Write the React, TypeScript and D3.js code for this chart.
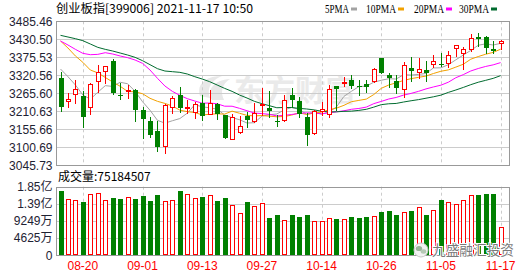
import React from 'react';
import * as d3 from 'd3';

const dates = ['08-17','08-18','08-19','08-20','08-23','08-24','08-25','08-26','08-27','08-30','08-31','09-01','09-02','09-03','09-06','09-07','09-08','09-09','09-10','09-13','09-14','09-15','09-16','09-17','09-22','09-23','09-24','09-27','09-28','09-29','09-30','10-08','10-11','10-12','10-13','10-14','10-15','10-18','10-19','10-20','10-21','10-22','10-25','10-26','10-27','10-28','10-29','11-01','11-02','11-03','11-04','11-05','11-08','11-09','11-10','11-11','11-12','11-15','11-16','11-17'];

const open = [3311.3,3241.0,3262.4,3257.3,3222.7,3303.1,3334.7,3364.2,3260.3,3271.6,3275.6,3214.5,3181.0,3150.4,3105.6,3224.7,3260.3,3220.7,3209.5,3234.9,3202.3,3231.9,3199.3,3126.0,3146.4,3197.2,3181.0,3229.8,3221.7,3182.0,3184.0,3260.3,3242.0,3194.2,3143.3,3212.5,3201.3,3287.9,3296.0,3306.2,3288.9,3292.9,3304.1,3372.3,3321.4,3303.1,3277.7,3341.8,3331.6,3336.7,3354.0,3356.0,3357.1,3404.9,3389.6,3399.8,3438.5,3438.5,3400.8,3418.1];
const high = [3331.6,3267.5,3306.2,3272.6,3298.0,3352.0,3349.9,3369.3,3298.0,3290.9,3277.7,3222.7,3194.2,3181.0,3231.9,3257.3,3285.8,3245.1,3238.0,3260.3,3275.6,3234.9,3200.3,3202.3,3197.2,3209.5,3234.9,3280.7,3272.6,3199.3,3260.3,3280.7,3255.3,3204.4,3214.5,3240.0,3290.9,3288.9,3314.3,3321.4,3306.2,3307.2,3341.8,3374.4,3326.5,3321.4,3362.2,3377.4,3374.4,3364.2,3382.5,3387.6,3394.7,3414.1,3407.9,3446.6,3450.7,3439.5,3425.3,3428.3];
const low = [3212.5,3222.7,3234.9,3163.6,3203.4,3270.5,3296.0,3263.4,3248.1,3252.2,3182.0,3130.1,3133.1,3090.4,3084.3,3206.4,3209.5,3204.4,3191.1,3184.0,3201.3,3187.1,3129.1,3125.0,3143.3,3163.6,3178.9,3199.3,3194.2,3165.7,3181.0,3222.7,3192.2,3107.7,3142.3,3199.3,3194.2,3214.5,3288.9,3280.7,3259.3,3269.5,3301.1,3326.5,3285.8,3265.5,3255.3,3303.1,3311.3,3303.1,3344.9,3348.9,3344.9,3380.5,3339.8,3395.7,3411.0,3389.6,3387.6,3400.8];
const close = [3224.7,3247.1,3278.7,3194.2,3294.0,3329.6,3347.9,3267.5,3257.3,3274.6,3214.5,3188.1,3138.2,3102.6,3229.8,3250.2,3221.7,3223.7,3231.9,3197.2,3234.9,3202.3,3130.1,3192.2,3165.7,3184.0,3206.4,3231.9,3212.5,3177.9,3245.1,3245.1,3201.3,3138.2,3211.5,3216.6,3278.7,3279.7,3299.0,3287.9,3284.8,3285.8,3339.8,3328.6,3311.3,3280.7,3351.0,3334.7,3338.7,3326.5,3364.2,3353.0,3382.5,3413.1,3399.8,3433.4,3432.4,3404.9,3394.7,3425.3];

// volume in 万
const volume = [17340,15100,14830,14290,16530,16720,14830,15450,15180,15640,15180,15990,14640,16260,14560,14830,17340,16450,15370,15800,16260,14640,15530,13570,11410,14290,13300,14020,10060,10870,9440,10870,10330,10870,9170,9170,9980,9710,9710,10330,10060,10330,10600,11680,11950,10950,11680,11950,12940,10950,12140,14910,14290,13830,14910,16260,16260,16530,16530,7518.4507];

const ma5 = [3339.8,3316.3,3290.9,3260.4,3247.7,3268.7,3288.9,3286.6,3299.3,3294.8,3271.8,3239.8,3213.9,3183.0,3174.6,3181.8,3188.5,3205.0,3230.9,3224.3,3221.3,3217.4,3199.3,3191.3,3185.0,3174.9,3175.7,3196.0,3200.1,3202.5,3214.8,3222.5,3216.4,3201.5,3208.2,3201.7,3208.4,3224.1,3256.3,3271.6,3286.0,3287.4,3299.5,3305.4,3310.1,3309.2,3322.3,3321.3,3323.3,3326.3,3343.0,3343.4,3353.0,3367.9,3382.5,3396.4,3412.2,3416.7,3413.0,3418.1];
const ma10 = [3425.3,3403.9,3379.5,3360.1,3336.7,3328.0,3314.0,3300.0,3287.0,3271.3,3270.2,3264.3,3250.3,3241.1,3234.7,3226.8,3214.2,3209.5,3206.9,3199.5,3201.5,3203.0,3202.1,3211.1,3204.7,3198.1,3196.5,3197.7,3195.7,3193.8,3194.8,3199.1,3206.2,3200.8,3205.4,3208.2,3215.5,3220.3,3228.9,3239.9,3243.9,3247.9,3261.8,3280.8,3290.8,3297.6,3304.9,3310.4,3314.3,3318.2,3326.1,3332.9,3337.1,3345.6,3354.4,3369.7,3377.8,3384.9,3390.5,3400.3];
const ma20 = [3425.3,3413.1,3399.8,3387.6,3383.5,3384.5,3389.6,3385.6,3379.5,3374.4,3367.2,3357.1,3336.7,3311.3,3287.8,3271.5,3259.3,3249.2,3242.0,3235.4,3235.9,3233.6,3226.2,3226.1,3219.7,3212.4,3205.3,3203.6,3201.3,3196.6,3198.2,3201.0,3204.2,3206.0,3205.0,3203.2,3206.0,3209.0,3212.3,3216.8,3219.3,3223.5,3234.0,3240.8,3248.1,3252.9,3260.2,3265.3,3271.6,3279.0,3285.0,3290.4,3299.5,3313.2,3322.6,3333.7,3341.3,3347.6,3352.4,3359.3];
const ma30 = [3442.6,3437.5,3432.4,3426.3,3416.1,3405.9,3399.8,3394.7,3388.6,3382.5,3375.4,3365.2,3353.0,3340.8,3333.6,3331.6,3329.6,3324.5,3316.3,3309.2,3301.1,3290.9,3280.7,3271.5,3260.4,3251.2,3241.0,3233.9,3227.8,3221.5,3222.2,3222.1,3219.5,3217.7,3214.9,3211.0,3208.7,3209.1,3210.5,3211.1,3213.4,3216.7,3223.4,3230.9,3233.6,3234.6,3239.0,3242.8,3246.3,3250.6,3254.9,3260.0,3268.4,3275.7,3283.5,3291.9,3299.4,3305.2,3311.2,3319.5];

const priceTicks = [3485.46,3430.50,3375.53,3320.56,3265.60,3210.63,3155.66,3100.69,3045.73];
const volTicks = [18498,13874,9249,4625,0];
const volTickLabels = ['1.85亿','1.39亿','9249万','4625万','0'];
const xLabels = ['08-20','09-01','09-13','09-27','10-14','10-26','11-05','11-17'];
const maNames = ['5PMA','10PMA','20PMA','30PMA'];
const maColors = ['#a3a3a3','#f2a100','#ff00ff','#006b2f'];
const title = '创业板指[399006] 2021-11-17 10:50';
const volTitle = '成交量:75184507';

const UP = '#ff0000';
const DOWN = '#008000';
const L = 56, R = 509, T = 21.3, B = 165.3, VT = 186.7, VB = 255.3;
const NUM = '"Liberation Sans", Arial, "Noto Sans CJK SC", sans-serif';
const CJK = '"Noto Sans CJK SC", "Liberation Sans", sans-serif';

export default function App() {
  const x = d3.scalePoint<string>().domain(dates).range([60.5, 500.6]);
  const y = d3.scaleLinear().domain([3045.73, 3485.46]).range([B, T]);
  const yv = d3.scaleLinear().domain([0, 18498]).range([VB, VT]);
  const cx = (i: number) => Math.round(x(dates[i]) as number);
  const line = d3.line<number>().x((_, i) => x(dates[i]) as number).y(d => y(d));
  const mas = [ma5, ma10, ma20, ma30];
  const legendX = [325, 366, 414, 459];
  const legendW = [24, 30, 30, 30];

  return (
    <svg width={530} height={276} style={{ position: 'absolute', left: 0, top: 0, background: '#fff' }}>
      <defs>
        <clipPath id="plot"><rect x={L} y={T} width={R - L} height={B - T} /></clipPath>
      </defs>
      <rect x={0} y={0} width={530} height={276} fill="#fff" />
      {/* title */}
      <text x={56} y={12.5} fontSize={12} fontFamily={CJK} fill="#000" textLength={197} lengthAdjust="spacingAndGlyphs">{title}</text>
      {/* legend */}
      {maNames.map((n, k) => (
        <g key={n}>
          <text x={legendX[k]} y={13} fontSize={13} fontFamily='"Liberation Serif", serif' fill="#000" textLength={legendW[k]} lengthAdjust="spacingAndGlyphs">{n}</text>
          <rect x={legendX[k] + legendW[k] + 2} y={7.5} width={6} height={3} fill={maColors[k]} />
        </g>
      ))}
      {/* watermark */}
      <g opacity={0.9}>
        <path d="M200,96 C196,84 206,76 222,76 C212,80 206,88 210,98 Z" fill="#e6e6e6" />
        <path d="M212,100 C206,90 214,80 230,79 C222,84 220,92 224,100 Z" fill="#e6e6e6" />
        <text x={234} y={101} fontSize={30} fontWeight="bold" fontFamily={CJK} fill="#e8e8e8" textLength={122} lengthAdjust="spacingAndGlyphs">东方财富</text>
      </g>
      {/* price grid */}
      {priceTicks.slice(1, -1).map(t => (
        <line key={t} x1={L} x2={R} y1={Math.round(y(t)) + 0.5} y2={Math.round(y(t)) + 0.5} stroke="#cccccc" />
      ))}
      {xLabels.map(d => (
        <line key={d} x1={Math.round(x(d) as number) + 0.5} x2={Math.round(x(d) as number) + 0.5} y1={T} y2={B} stroke="#cccccc" strokeDasharray="3,3" />
      ))}
      {/* MA lines */}
      <g clipPath="url(#plot)" fill="none" strokeWidth={1}>
        {mas.map((m, k) => (
          <path key={k} d={line(m) || ''} stroke={maColors[k]} />
        ))}
      </g>
      {/* candles */}
      {dates.map((d, i) => {
        const c = cx(i);
        const up = close[i] >= open[i];
        const col = up ? UP : DOWN;
        const yo = Math.round(y(open[i]));
        const yc = Math.round(y(close[i]));
        const yh = Math.round(y(high[i]));
        const yl = Math.round(y(low[i]));
        const top = Math.min(yo, yc);
        const bot = Math.max(yo, yc);
        return (
          <g key={d}>
            <line x1={c + 0.5} x2={c + 0.5} y1={yh} y2={yl + 1} stroke={col} />
            {up ? (
              <rect x={c - 2 + 0.5} y={top + 0.5} width={4} height={Math.max(bot - top, 1)} fill="#fff" stroke={col} />
            ) : (
              <rect x={c - 2} y={top} width={5} height={Math.max(bot - top, 1)} fill={col} />
            )}
          </g>
        );
      })}
      {/* price panel border */}
      <rect x={L + 0.5} y={Math.round(T) + 0.5} width={R - L} height={Math.round(B) - Math.round(T)} fill="none" stroke="#999" />
      {/* price labels */}
      {priceTicks.map(t => (
        <text key={t} x={52.5} y={y(t) + 4.3} textAnchor="end" fontSize={12} fontFamily={NUM} fill="#1e2233">{t.toFixed(2)}</text>
      ))}
      {/* volume title */}
      <text x={58} y={181} fontSize={12} fontFamily={CJK} fill="#000">{volTitle}</text>
      {/* volume grid */}
      {volTicks.slice(1, -1).map(t => (
        <line key={t} x1={L} x2={R} y1={Math.round(yv(t)) + 0.5} y2={Math.round(yv(t)) + 0.5} stroke="#cccccc" />
      ))}
      {xLabels.map(d => (
        <line key={'v' + d} x1={Math.round(x(d) as number) + 0.5} x2={Math.round(x(d) as number) + 0.5} y1={VT} y2={VB} stroke="#cccccc" strokeDasharray="3,3" />
      ))}
      {/* volume bars */}
      {dates.map((d, i) => {
        const c = cx(i);
        const up = close[i] >= open[i];
        const yt = Math.round(yv(volume[i]));
        const yb = Math.round(VB);
        return up ? (
          <rect key={'vb' + d} x={c - 2 + 0.5} y={yt + 0.5} width={4} height={yb - yt - 1} fill="#fff" stroke={UP} />
        ) : (
          <rect key={'vb' + d} x={c - 2} y={yt} width={5} height={yb - yt} fill={DOWN} />
        );
      })}
      <rect x={L + 0.5} y={Math.round(VT) + 0.5} width={R - L} height={Math.round(VB) - Math.round(VT)} fill="none" stroke="#999" />
      {volTicks.map((t, k) => (
        <text key={'vt' + t} x={52.5} y={yv(t) + 4.3} textAnchor="end" fontSize={12} fontFamily={NUM} fill="#1e2233">{volTickLabels[k]}</text>
      ))}
      {/* x labels */}
      {xLabels.map(d => (
        <text key={'xl' + d} x={x(d) as number} y={269.5} textAnchor="middle" fontSize={12} fontFamily={NUM} fill="#ff0000">{d}</text>
      ))}
      {/* bottom-right watermark */}
      <g>
        <circle cx={421} cy={250} r={7} fill="#f2f2f2" stroke="#c8c8c8" />
        <ellipse cx={419} cy={248.5} rx={3.2} ry={2.6} fill="#9ab59a" />
        <ellipse cx={423.5} cy={251.5} rx={2.8} ry={2.2} fill="#b5c9b5" />
        <text x={432} y={255} fontSize={14} fontFamily={CJK} fill="#7a7a7a" stroke="#fff" strokeWidth={2} paintOrder="stroke" textLength={82} lengthAdjust="spacingAndGlyphs">九盛融汇投资</text>
      </g>
    </svg>
  );
}
